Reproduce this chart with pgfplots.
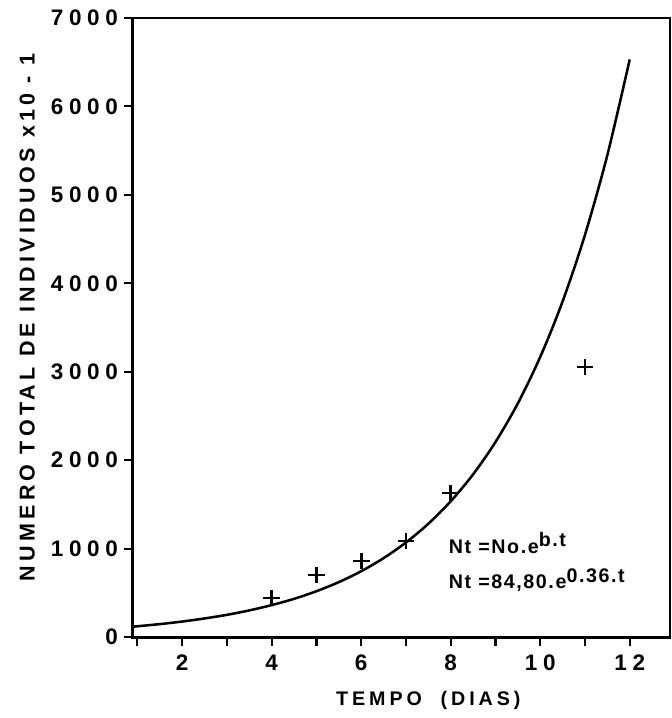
\documentclass[border=0pt]{standalone}
\usepackage{pgfplots}
\pgfplotsset{compat=1.18}
\usepackage{fontspec}
\setmainfont{Liberation Sans}
\newfontfamily\ticks[LetterSpace=25]{Liberation Sans}
\newfontfamily\lbl[LetterSpace=20]{Liberation Sans}
\newfontfamily\note[LetterSpace=8]{Liberation Sans}
\begin{document}
\begin{tikzpicture}
\begin{axis}[
    at={(0,0)}, anchor=south west,
    scale only axis,
    width=13.43cm, height=15.48cm,
    xmin=0.9, xmax=12.9,
    ymin=0, ymax=7000,
    xtick={2,4,6,8,10,12},
    minor xtick={1,3,5,7,9,11},
    ytick={0,1000,...,7000},
    tick align=outside,
    xtick pos=bottom, ytick pos=left,
    major tick length=0.22cm, minor tick length=0.22cm,
    every tick/.style={black, line width=1.5pt},
    axis line style={line width=2.1pt},
    /pgf/number format/assume math mode=true,
    /pgf/number format/1000 sep={},
    tick label style={font=\fontsize{16}{18}\selectfont\ticks\bfseries},
    xticklabel style={yshift=-3pt},
    yticklabel style={xshift=-1pt},
    xlabel={TEMPO\ \ (DIAS)},
    ylabel={NUMERO TOTAL DE INDIVIDUOS x10 - 1},
    xlabel style={font=\fontsize{14}{16}\selectfont\lbl\bfseries,
        at={(axis description cs:0.55,-0.102)}, anchor=center},
    ylabel style={font=\fontsize{15.3}{17}\selectfont\lbl\bfseries,
        at={(axis description cs:-0.197,0.516)}, anchor=center},
]
\addplot[black, line width=1.8pt, smooth] coordinates {
    (0.9,117) (1.5,146) (2,175) (2.5,210) (3,251) (3.5,301) (4,361)
    (4.5,432) (5,518) (5.5,621) (6,744) (6.5,892) (7,1069) (7.5,1281)
    (8,1535) (8.5,1839) (9,2205) (9.5,2642) (10,3167) (10.5,3795)
    (11,4548) (11.5,5450) (12,6531)
};
\addplot[black, only marks, mark=+, mark size=6pt, line width=2pt] coordinates {
    (4,441) (5,701) (6,860) (7,1086) (8,1629) (11,3054)
};
\node[anchor=west, font=\fontsize{14}{16}\selectfont\note\bfseries] at (axis cs:7.85,1063) {Nt =No.e\raisebox{0.6ex}{b.t}};
\node[anchor=west, font=\fontsize{14}{16}\selectfont\note\bfseries] at (axis cs:7.85,645) {Nt =84,80.e\raisebox{0.6ex}{0.36.t}};
\end{axis}
\pgfresetboundingbox
\path (-3.325cm,-2.025cm) rectangle (13.475cm,15.93cm);
\end{tikzpicture}
\end{document}
